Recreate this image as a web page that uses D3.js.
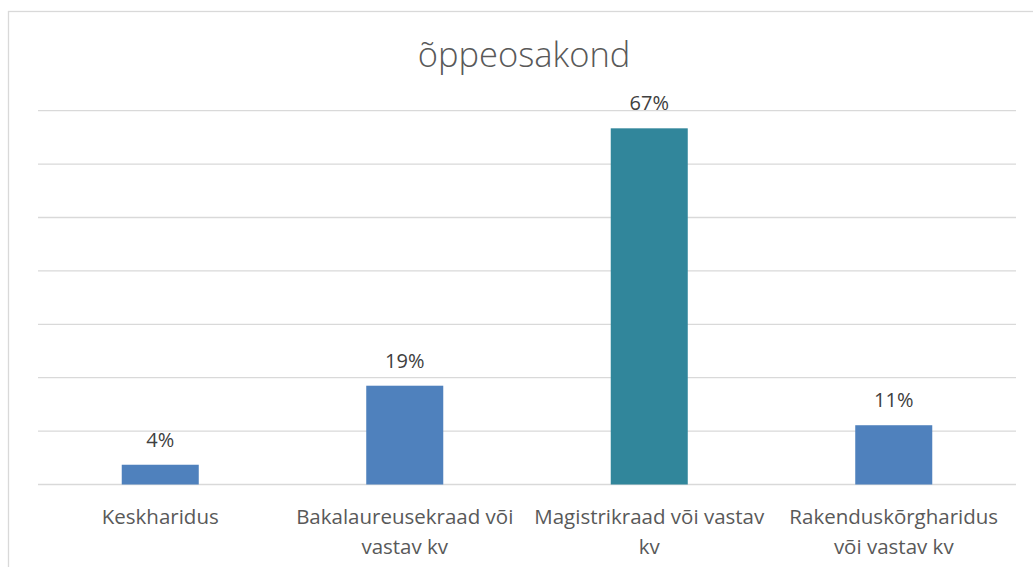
<!DOCTYPE html>
<html>
<head>
<meta charset="utf-8">
<script src="https://cdn.jsdelivr.net/npm/d3@7"></script>
<style>
  body { margin: 0; background: #fff; }
  svg { display: block; font-family: "Open Sans", sans-serif; }
</style>
</head>
<body>
<svg width="1033" height="567"></svg>
<script>
// data
var categories = ['Keskharidus', 'Bakalaureusekraad või vastav kv', 'Magistrikraad või vastav kv', 'Rakenduskõrgharidus või vastav kv'];
var labelLines = [['Keskharidus'], ['Bakalaureusekraad või', 'vastav kv'], ['Magistrikraad või vastav', 'kv'], ['Rakenduskõrgharidus', 'või vastav kv']];
var values = [3.7, 18.5, 66.7, 11.1];
var barColors = ['#4f81bd', '#4f81bd', '#31869b', '#4f81bd'];
var gridTicks = [0, 10, 20, 30, 40, 50, 60, 70];

var svg = d3.select('svg');
var plotLeft = 38, plotRight = 1016, plotTop = 110.7, plotBottom = 484.5;

// chart frame
svg.append('rect')
  .attr('x', 8.5).attr('y', 11.5)
  .attr('width', 1100).attr('height', 600)
  .attr('fill', 'none')
  .attr('stroke', '#d9d9d9')
  .attr('stroke-width', 1.3);

var x = d3.scaleBand()
  .domain(categories)
  .range([plotLeft, plotRight])
  .paddingInner(0.685)
  .paddingOuter(0.3425);

var y = d3.scaleLinear()
  .domain([0, 70])
  .range([plotBottom, plotTop]);

// gridlines
svg.selectAll('line.grid')
  .data(gridTicks)
  .enter()
  .append('line')
  .attr('class', 'grid')
  .attr('x1', plotLeft).attr('x2', plotRight)
  .attr('y1', function(d) { return y(d); })
  .attr('y2', function(d) { return y(d); })
  .attr('stroke', '#d9d9d9')
  .attr('stroke-width', 1.3);

// bars
svg.selectAll('rect.bar')
  .data(values)
  .enter()
  .append('rect')
  .attr('class', 'bar')
  .attr('x', function(d, i) { return x(categories[i]); })
  .attr('width', x.bandwidth())
  .attr('y', function(d) { return y(d); })
  .attr('height', function(d) { return y(0) - y(d); })
  .attr('fill', function(d, i) { return barColors[i]; });

// value labels
svg.selectAll('text.val')
  .data(values)
  .enter()
  .append('text')
  .attr('class', 'val')
  .attr('x', function(d, i) { return x(categories[i]) + x.bandwidth() / 2; })
  .attr('y', function(d) { return y(d) - 18; })
  .attr('text-anchor', 'middle')
  .attr('fill', '#404040')
  .attr('font-size', 20)
  .text(function(d) { return Math.round(d) + '%'; });

// category labels
var cat = svg.selectAll('text.cat')
  .data(labelLines)
  .enter()
  .append('text')
  .attr('class', 'cat')
  .attr('text-anchor', 'middle')
  .attr('fill', '#595959')
  .attr('font-size', 20.5);

cat.selectAll('tspan')
  .data(function(d, i) { return d.map(function(t) { return { t: t, i: i }; }); })
  .enter()
  .append('tspan')
  .attr('x', function(d) { return x(categories[d.i]) + x.bandwidth() / 2; })
  .attr('y', function(d, j) { return 524 + j * 29.5; })
  .text(function(d) { return d.t; });

// title
svg.append('text')
  .attr('x', 524)
  .attr('y', 67)
  .attr('text-anchor', 'middle')
  .attr('fill', '#595959')
  .attr('font-size', 34.5)
  .attr('font-weight', 300)
  .text('õppeosakond');
</script>
</body>
</html>
